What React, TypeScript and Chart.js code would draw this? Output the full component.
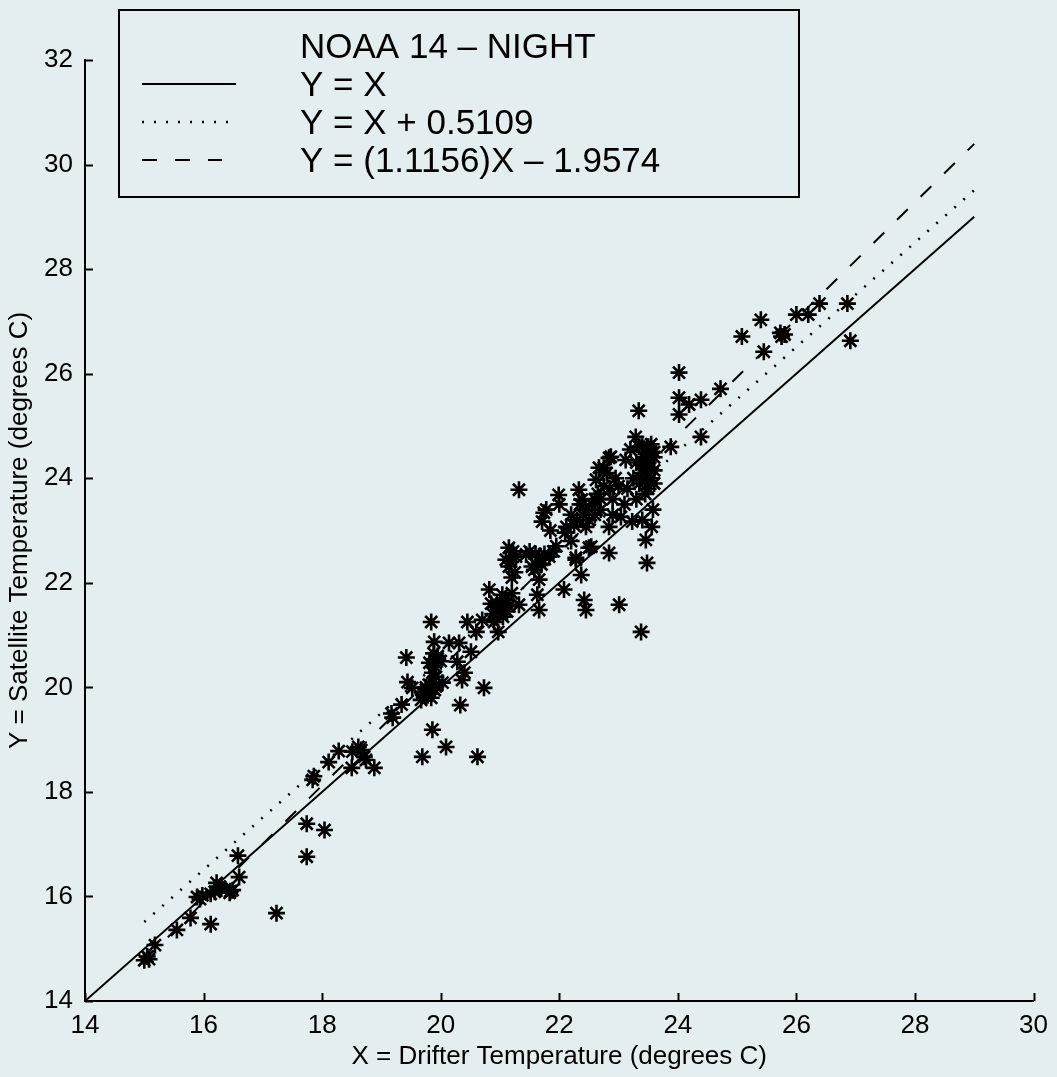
import React, { useEffect, useRef } from 'react';
import { Chart, registerables } from 'chart.js';

Chart.register(...registerables);

// Drifter temperature (x) and satellite temperature (y), degrees C
const drifterX = [
  15.0, 15.08, 15.05, 15.18, 15.55, 15.78, 16.12, 15.89, 15.94, 15.98,
  16.12, 16.19, 16.22, 16.28, 16.44, 16.49, 16.6, 16.58, 17.23, 17.74,
  17.74, 18.04, 17.84, 17.86, 18.11, 18.28, 18.5, 18.51, 18.61, 18.71,
  18.74, 18.88, 18.66, 16.3, 16.45,
  19.19, 19.17, 19.34, 19.69, 19.86, 20.09, 20.62, 19.42, 19.44, 19.52,
  19.69, 19.84, 19.67, 19.75, 19.8, 19.86, 19.81, 19.84, 19.89, 20.03,
  20.14, 20.31, 20.28, 20.4, 20.36, 20.51, 20.33, 20.73, 19.9, 19.95,
  20.0, 19.92, 19.78, 20.45, 20.6, 20.7, 20.97, 20.82, 20.94, 21.04,
  21.32, 20.88, 21.0, 21.1, 21.2, 20.9, 21.05, 20.85, 21.15,
  19.72, 19.78, 19.85, 19.92, 19.75, 19.9, 19.95, 19.88,
  21.0, 21.1, 20.95, 21.12,
  21.15, 21.27, 21.15, 21.2, 21.1, 21.25, 21.44, 21.66, 21.83, 21.58,
  21.66, 21.63, 21.66, 21.54, 21.71, 21.5, 21.9, 21.32, 21.74, 21.71,
  21.78, 21.85, 21.95, 22.08, 22.1, 22.12, 21.99, 22.0, 22.2, 22.28,
  22.37, 22.42, 22.45, 22.28, 22.54, 22.5, 22.84, 22.5, 22.45, 22.84,
  23.04, 23.23, 23.56, 23.46, 23.48, 23.01, 23.38, 22.38, 22.33, 22.62,
  22.67, 22.84, 23.12, 22.55, 22.65, 22.75, 22.8, 22.7, 22.6, 22.9,
  23.0, 22.95, 22.4, 22.25, 22.2,
  21.18, 21.22, 21.6, 21.75, 21.7, 22.3, 22.45, 22.35, 22.6, 22.7,
  22.85, 22.75, 22.9,
  23.29, 23.34, 23.4, 23.45, 23.5, 23.55, 23.4, 23.35, 23.5, 23.6,
  23.55, 23.3, 23.25, 23.45, 23.6, 23.2, 23.5, 23.4, 23.6, 23.15,
  23.1, 23.3, 23.45, 22.87, 23.88, 24.02, 24.02, 24.19, 24.39, 24.02,
  24.39, 24.72, 25.08, 25.4, 25.45, 25.73, 25.75, 25.8, 26.0, 26.2,
  26.39, 26.86, 26.91, 23.58, 23.4,
  23.5, 23.55, 23.45, 23.35, 23.6, 23.5,
];
const satelliteY = [
  14.78, 14.8, 14.85, 15.07, 15.36, 15.59, 15.47, 15.99, 15.95, 16.02,
  16.05, 16.09, 16.26, 16.18, 16.07, 16.12, 16.37, 16.78, 15.68, 16.76,
  17.39, 17.27, 18.23, 18.3, 18.57, 18.78, 18.46, 18.77, 18.86, 18.67,
  18.61, 18.46, 18.8, 16.15, 16.1,
  19.42, 19.5, 19.67, 18.67, 19.19, 18.86, 18.67, 20.57, 20.1, 19.99,
  19.9, 19.8, 19.76, 19.95, 20.05, 20.28, 20.47, 21.25, 20.87, 20.09,
  20.85, 20.85, 20.49, 20.28, 20.14, 20.68, 19.66, 19.99, 19.95, 20.6,
  20.5, 20.2, 19.85, 21.25, 21.06, 21.29, 21.06, 21.87, 21.54, 21.77,
  21.58, 21.4, 21.45, 21.7, 21.8, 21.25, 21.35, 21.6, 21.55,
  19.85, 19.92, 19.98, 20.02, 20.0, 20.4, 20.55, 20.65,
  21.5, 21.6, 21.6, 21.45,
  22.67, 22.5, 22.31, 22.1, 22.44, 22.2, 22.54, 22.5, 22.5, 22.25,
  22.06, 21.77, 21.48, 22.31, 22.44, 22.6, 22.6, 23.78, 23.34, 23.17,
  23.4, 23.0, 22.7, 21.87, 22.96, 23.07, 23.68, 23.5, 23.3, 22.48,
  22.15, 21.67, 21.48, 22.44, 22.69, 22.67, 22.57, 23.2, 23.07, 23.07,
  23.26, 23.17, 23.07, 22.82, 22.38, 21.58, 21.06, 23.59, 23.78, 23.97,
  24.2, 24.39, 24.35, 23.5, 23.7, 23.85, 24.1, 23.4, 23.3, 23.6,
  23.85, 24.0, 23.3, 23.1, 22.8,
  22.4, 22.6, 22.55, 22.55, 22.35, 23.2, 23.4, 23.5, 23.6, 23.6,
  23.8, 24.2, 23.3,
  24.79, 25.29, 24.6, 24.4, 24.2, 24.0, 24.1, 23.9, 23.8, 24.5,
  24.65, 24.3, 24.0, 23.95, 24.15, 24.55, 24.45, 24.3, 23.9, 23.8,
  23.5, 23.6, 23.7, 24.41, 24.6, 25.54, 25.22, 25.41, 25.5, 26.02,
  24.79, 25.71, 26.71, 27.03, 26.42, 26.78, 26.71, 26.75, 27.13, 27.13,
  27.34, 27.34, 26.63, 23.4, 23.2,
  24.3, 24.5, 24.1, 24.6, 24.4, 24.6,
];

// Reference lines (end points)
const identityX = [14, 29];
const identityY = [14, 29];
const offsetX = [15, 29];
const offsetY = [15.5109, 29.5109];
const fitX = [15, 29];
const fitY = [14.7766, 30.395];

const xTicks = [14, 16, 18, 20, 22, 24, 26, 28, 30];
const yTicks = [14, 16, 18, 20, 22, 24, 26, 28, 30, 32];

const xTitle = 'X = Drifter Temperature (degrees C)';
const yTitle = 'Y = Satellite Temperature (degrees C)';
const legendTitle = 'NOAA 14 – NIGHT';
const legendLabels = ['Y = X', 'Y = X + 0.5109', 'Y = (1.1156)X – 1.9574'];

const FONT = '"Liberation Sans", Arial, Helvetica, sans-serif';
const BG = '#e4edef';

const dashes: number[][] = [[], [2, 10], [15, 18]];

const overlayPlugin = {
  id: 'overlay',
  afterDraw(chart: any) {
    const { ctx, chartArea, scales } = chart;
    const xs = scales.x;
    const ys = scales.y;
    ctx.save();
    ctx.strokeStyle = '#000';
    ctx.lineWidth = 2;
    ctx.setLineDash([]);
    // inward ticks
    for (const v of xTicks) {
      const px = Math.round(xs.getPixelForValue(v)) + 0.5;
      ctx.beginPath();
      ctx.moveTo(px, chartArea.bottom);
      ctx.lineTo(px, chartArea.bottom - 8);
      ctx.stroke();
    }
    for (const v of yTicks) {
      const py = Math.round(ys.getPixelForValue(v)) + 0.5;
      ctx.beginPath();
      ctx.moveTo(chartArea.left, py);
      ctx.lineTo(chartArea.left + 8, py);
      ctx.stroke();
    }
    // legend box
    const bx = 119, by = 10, bw = 680, bh = 187;
    ctx.fillStyle = BG;
    ctx.fillRect(bx, by, bw, bh);
    ctx.lineWidth = 2;
    ctx.strokeRect(bx, by, bw, bh);
    ctx.fillStyle = '#000';
    ctx.font = `35px ${FONT}`;
    ctx.textAlign = 'left';
    ctx.textBaseline = 'alphabetic';
    ctx.fillText(legendTitle, 300, 58);
    const rowY = [84, 122, 160];
    const lineEnds = [236, 230, 222];
    legendLabels.forEach((label, i) => {
      ctx.setLineDash(dashes[i]);
      ctx.lineWidth = i === 1 ? 2.5 : 2;
      ctx.beginPath();
      ctx.moveTo(142, rowY[i]);
      ctx.lineTo(lineEnds[i], rowY[i]);
      ctx.stroke();
      ctx.setLineDash([]);
      ctx.fillText(label, 300, rowY[i] + 12);
    });
    ctx.restore();
  },
};

function toPoints(xs: number[], ys: number[]) {
  return xs.map((x, i) => ({ x, y: ys[i] }));
}

export default function App() {
  const canvasRef = useRef<HTMLCanvasElement | null>(null);

  useEffect(() => {
    const canvas = canvasRef.current;
    if (!canvas) return;
    Chart.defaults.font.family = FONT;
    const lineStyle = (i: number) => ({
      type: 'line' as const,
      borderColor: '#000',
      borderWidth: i === 1 ? 2.5 : 2,
      borderDash: dashes[i],
      pointRadius: 0,
      fill: false,
      tension: 0,
    });
    const chart = new Chart(canvas, {
      type: 'scatter',
      data: {
        datasets: [
          {
            label: 'data',
            data: toPoints(drifterX, satelliteY),
            pointStyle: 'star',
            pointRadius: 8.5,
            pointBorderWidth: 2.6,
            borderColor: '#000',
            backgroundColor: '#000',
            order: 0,
          } as any,
          { label: legendLabels[0], data: toPoints(identityX, identityY), ...lineStyle(0), order: 1 } as any,
          { label: legendLabels[1], data: toPoints(offsetX, offsetY), ...lineStyle(1), order: 1 } as any,
          { label: legendLabels[2], data: toPoints(fitX, fitY), ...lineStyle(2), order: 1 } as any,
        ],
      },
      options: {
        animation: false,
        responsive: true,
        maintainAspectRatio: false,
        layout: { padding: { top: 60, right: 21, left: 0, bottom: 0 } },
        plugins: {
          legend: { display: false },
          tooltip: { enabled: false },
        },
        scales: {
          x: {
            type: 'linear',
            min: 14,
            max: 30,
            afterBuildTicks: (s: any) => {
              s.ticks = xTicks.map((v) => ({ value: v }));
            },
            afterFit: (s: any) => {
              s.height = 76;
            },
            grid: { display: false, drawTicks: false },
            border: { display: true, color: '#000', width: 2 },
            ticks: {
              color: '#000',
              font: { size: 26 },
              padding: 9,
              maxRotation: 0,
              autoSkip: false,
            },
            title: {
              display: true,
              text: xTitle,
              color: '#000',
              font: { size: 26 },
              padding: { top: 0, bottom: 5 },
            },
          },
          y: {
            type: 'linear',
            min: 14,
            max: 32,
            afterBuildTicks: (s: any) => {
              s.ticks = yTicks.map((v) => ({ value: v }));
            },
            afterFit: (s: any) => {
              s.width = 85;
            },
            grid: { display: false, drawTicks: false },
            border: { display: true, color: '#000', width: 2 },
            ticks: {
              color: '#000',
              font: { size: 26 },
              padding: 12,
              autoSkip: false,
            },
            title: {
              display: true,
              text: yTitle,
              color: '#000',
              font: { size: 26 },
              padding: { top: 4, bottom: 0 },
            },
          },
        },
      },
      plugins: [overlayPlugin],
    } as any);
    return () => chart.destroy();
  }, []);

  return (
    <div
      style={{
        position: 'fixed',
        left: 0,
        top: 0,
        width: 1057,
        height: 1077,
        background: BG,
      }}
    >
      <canvas ref={canvasRef} />
    </div>
  );
}
